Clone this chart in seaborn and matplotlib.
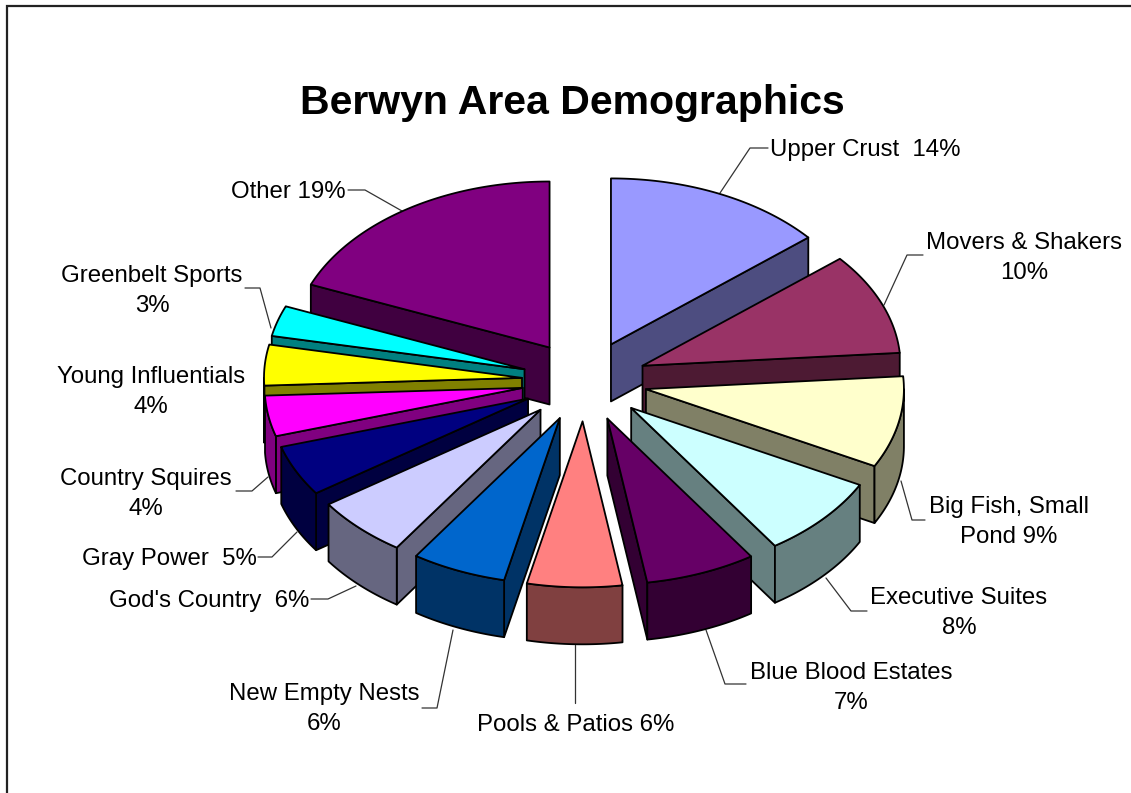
import numpy as np
import matplotlib
matplotlib.use("Agg")
import matplotlib.pyplot as plt
import seaborn as sns

# Neighbourhood segments, clockwise from twelve o'clock
segments = ["Upper Crust", "Movers & Shakers", "Big Fish, Small Pond", "Executive Suites",
            "Blue Blood Estates", "Pools & Patios", "New Empty Nests", "God's Country",
            "Gray Power", "Country Squires", "Young Influentials", "Greenbelt Sports", "Other"]
shares = [14, 10, 9, 8, 7, 6, 6, 6, 5, 4, 4, 3, 19]
slice_colors = ["#9999FF", "#993366", "#FFFFCC", "#CCFFFF", "#660066", "#FF8080", "#0066CC",
                "#CCCCFF", "#000080", "#FF00FF", "#FFFF00", "#00FFFF", "#800080"]
label_texts = ["Upper Crust  14%", "Movers & Shakers\n10%", "Big Fish, Small\nPond 9%",
               "Executive Suites\n8%", "Blue Blood Estates\n7%", "Pools & Patios 6%",
               "New Empty Nests\n6%", "God's Country  6%", "Gray Power  5%",
               "Country Squires\n4%", "Young Influentials\n4%", "Greenbelt Sports\n3%", "Other 19%"]
# text anchor (x, y) and leader polyline per label, in canvas pixels
label_places = [(865, 150), (1024, 258), (1009, 522), (959, 613), (851, 688), (576, 725),
                (324, 709), (209, 601), (169, 559), (146, 494), (151, 392), (152, 291),
                (288, 192)]
leaders = [[(720, 193), (750, 148), (768, 148)],
           [(884, 305), (907, 255), (923, 255)],
           [(901, 481), (912, 520), (925, 520)],
           [(826, 578), (851, 611), (867, 611)],
           [(706, 630), (725, 684), (746, 684)],
           [(575, 645), (575, 703)],
           [(453, 630), (437, 708), (422, 708)],
           [(356, 586), (328, 599), (311, 599)],
           [(297, 532), (272, 557), (258, 557)],
           [(268, 477), (252, 491), (236, 491)],
           [],
           [(271, 328), (260, 288), (245, 288)],
           [(402, 211), (365, 190), (348, 190)]]

# Canvas-pixel geometry of the tilted, exploded pie
CX, CY = 584.5, 381.0
RX, RY = 258.0, 166.0
EXPLODE = 0.243
DEPTH = 57.0

sns.set_theme(style="white")
plt.rcParams["font.family"] = ["Liberation Sans", "DejaVu Sans"]
palette = sns.color_palette(slice_colors)


def darker(rgb):
    return tuple(c * 0.5 for c in rgb)


fig = plt.figure(figsize=(11.31, 7.93), dpi=100, facecolor="white")
ax = fig.add_axes([0, 0, 1, 1])
ax.set_xlim(0, 1131)
ax.set_ylim(793, 0)
ax.axis("off")

# Chart-area frame: only the top and left edges fall inside the canvas
ax.plot([7, 7, 1131], [793, 6, 6], color="#222222", lw=1.6, solid_joinstyle="miter", zorder=1)

edges = np.cumsum([0] + shares) / sum(shares) * 2 * np.pi


def rim(apex, angle):
    return np.array([apex[0] + RX * np.sin(angle), apex[1] - RY * np.cos(angle)])


def draw_slice(i, z):
    a1, a2 = edges[i], edges[i + 1]
    mid = (a1 + a2) / 2
    apex = np.array([CX + EXPLODE * RX * np.sin(mid), CY - EXPLODE * RY * np.cos(mid)])
    drop = np.array([0, DEPTH])
    top = palette[i]
    side = darker(top)
    style = dict(edgecolor="black", lw=1.3, joinstyle="round")

    # Radial walls that face the viewer
    mid_rim = rim(apex, mid)
    for a in (a1, a2):
        p = rim(apex, a)
        edge = p - apex
        # the wall shows when the wedge surface sits above this edge
        t = np.dot(mid_rim - apex, edge) / np.dot(edge, edge)
        if (mid_rim - (apex + t * edge))[1] < 0:
            quad = np.array([apex, p, p + drop, apex + drop])
            ax.fill(quad[:, 0], quad[:, 1], facecolor=side, zorder=z, **style)

    # Outer wall: only the part of the rim on the near side
    lo, hi = max(a1, np.pi / 2), min(a2, 3 * np.pi / 2)
    if hi > lo:
        arc = np.array([rim(apex, a) for a in np.linspace(lo, hi, 60)])
        wall = np.vstack([arc, arc[::-1] + drop])
        ax.fill(wall[:, 0], wall[:, 1], facecolor=side, zorder=z + 0.1, **style)

    # Top surface
    arc = np.array([rim(apex, a) for a in np.linspace(a1, a2, 80)])
    face = np.vstack([apex, arc])
    ax.fill(face[:, 0], face[:, 1], facecolor=top, zorder=z + 0.2, **style)


# Paint back to front so nearer slices cover farther ones
mids = (edges[:-1] + edges[1:]) / 2
order = np.argsort(-np.cos(mids))
for rank, i in enumerate(order):
    draw_slice(i, 2 + rank)

for line in leaders:
    if line:
        xs, ys = zip(*line)
        ax.plot(xs, ys, color="#333333", lw=0.9, zorder=1.5)

for text, (x, y) in zip(label_texts, label_places):
    ax.text(x, y, text, ha="center", va="center", fontsize=17.3, color="black",
            linespacing=1.47, zorder=30)

ax.text(572, 103, "Berwyn Area Demographics", ha="center", va="center",
        fontsize=29.5, fontweight="bold", color="black", zorder=30)

fig.savefig("out.png", dpi=100, facecolor="white")
